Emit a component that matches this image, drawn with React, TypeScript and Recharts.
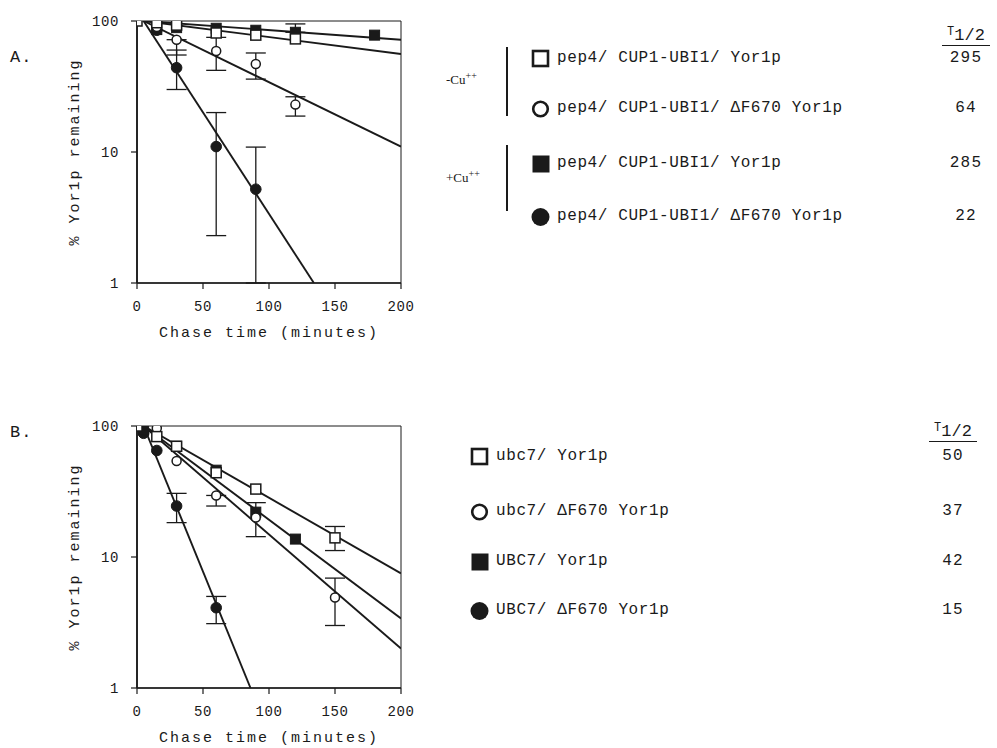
import React from 'react';
import { ComposedChart, Scatter, Line, XAxis, YAxis, ErrorBar, ReferenceArea, Label } from 'recharts';

const MONO = '"Liberation Mono", "Courier New", monospace';
const SERIF = '"Liberation Serif", "Times New Roman", serif';
const INK = '#1a1a1a';

// ---------- axis ticks ----------
const xTicks = [0, 50, 100, 150, 200];
const yTicks = [1, 10, 100];

// ---------- Panel A data ----------
const aOpenSqT = [0, 15, 30, 60, 90, 120];
const aOpenSqV = [100, 97, 93, 81, 78, 73];
const aOpenSqLo = [null, null, null, null, null, null];
const aOpenSqHi = [null, null, null, null, null, null];

const aOpenCiT = [15, 30, 60, 90, 120];
const aOpenCiV = [90, 72, 59, 47, 23];
const aOpenCiLo = [null, 55, 42, 36, 18.8];
const aOpenCiHi = [null, null, 75, 57, 26.4];

const aFillSqT = [15, 30, 60, 90, 120, 180];
const aFillSqV = [86, 89, 88, 85, 82, 78];
const aFillSqLo = [null, null, null, null, null, null];
const aFillSqHi = [null, null, null, null, 95, null];

const aFillCiT = [15, 30, 60, 90];
const aFillCiV = [85, 44, 11, 5.2];
const aFillCiLo = [null, 30, 2.3, 1];
const aFillCiHi = [null, 60, 20, 10.9];

const aFitOpenSqT = [5, 200];
const aFitOpenSqV = [100, 56];
const aFitFillSqT = [5, 200];
const aFitFillSqV = [100, 72];
const aFitOpenCiT = [5, 200];
const aFitOpenCiV = [100, 11];
const aFitFillCiT = [5, 134];
const aFitFillCiV = [100, 1];

// ---------- Panel B data ----------
const bOpenSqT = [0, 15, 30, 60, 90, 150];
const bOpenSqV = [100, 83, 70, 44, 33, 14];
const bOpenSqLo = [null, null, null, null, null, 11.2];
const bOpenSqHi = [null, null, null, null, null, 17.1];

const bOpenCiT = [15, 30, 60, 90, 150];
const bOpenCiV = [96, 54, 29.5, 20, 4.9];
const bOpenCiLo = [null, null, 24.5, 14.3, 3.0];
const bOpenCiHi = [null, null, null, 26, 6.9];

const bFillSqT = [5, 30, 60, 90, 120];
const bFillSqV = [93, 70, 46, 22, 13.7];
const bFillSqLo = [null, null, null, null, null];
const bFillSqHi = [null, null, null, null, null];

const bFillCiT = [5, 15, 30, 60];
const bFillCiV = [88, 65, 24.5, 4.1];
const bFillCiLo = [null, null, 18.3, 3.1];
const bFillCiHi = [null, null, 30.6, 5.0];

const bFitOpenSqT = [5, 200];
const bFitOpenSqV = [100, 7.5];
const bFitFillSqT = [5, 200];
const bFitFillSqV = [100, 3.4];
const bFitOpenCiT = [5, 200];
const bFitOpenCiV = [100, 2.0];
const bFitFillCiT = [5, 86];
const bFitFillCiV = [100, 1];

// ---------- legends ----------
const legendALabels = [
  'pep4/ CUP1-UBI1/ Yor1p',
  'pep4/ CUP1-UBI1/ ΔF670 Yor1p',
  'pep4/ CUP1-UBI1/ Yor1p',
  'pep4/ CUP1-UBI1/ ΔF670 Yor1p',
];
const legendAHalf = ['295', '64', '285', '22'];
const legendBLabels = ['ubc7/ Yor1p', 'ubc7/ ΔF670 Yor1p', 'UBC7/ Yor1p', 'UBC7/ ΔF670 Yor1p'];
const legendBHalf = ['50', '37', '42', '15'];
const symbolKinds = ['openSq', 'openCi', 'fillSq', 'fillCi'];

type Pt = { x: number; y: number; err?: number[] };

function build(t: number[], v: number[], lo: (number | null)[], hi: (number | null)[]): Pt[] {
  return t.map((x, i) => {
    const l = lo[i];
    const h = hi[i];
    const p: Pt = { x, y: v[i] };
    if (l != null || h != null) {
      p.err = [l != null ? v[i] - l : 0, h != null ? h - v[i] : 0];
    }
    return p;
  });
}
function fit(t: number[], v: number[]) {
  return t.map((x, i) => ({ x, y: v[i] }));
}

const M = 5; // marker half size
const OpenSq = (p: any) => (
  <rect x={p.cx - M} y={p.cy - M} width={2 * M} height={2 * M} fill="#fff" stroke={INK} strokeWidth={1.5} />
);
const FillSq = (p: any) => (
  <rect x={p.cx - M} y={p.cy - M} width={2 * M} height={2 * M} fill={INK} stroke={INK} strokeWidth={1} />
);
const OpenCi = (p: any) => <circle cx={p.cx} cy={p.cy} r={M - 0.5} fill="#fff" stroke={INK} strokeWidth={1.5} />;
const FillCi = (p: any) => <circle cx={p.cx} cy={p.cy} r={M + 0.3} fill={INK} stroke={INK} strokeWidth={1} />;

const XTitle = (props: any) => {
  const vb = props.viewBox || {};
  return (
    <text x={vb.x + vb.width / 2} y={vb.y + 54} textAnchor="middle" fontFamily={MONO} fontSize={15} letterSpacing={2} fill={INK}>
      Chase time (minutes)
    </text>
  );
};
const YTitle = (props: any) => {
  const vb = props.viewBox || {};
  const cx = vb.x + vb.width - 62;
  const cy = vb.y + vb.height / 2;
  return (
    <text x={cx} y={cy} transform={`rotate(-90 ${cx} ${cy})`} textAnchor="middle" dominantBaseline="central" fontFamily={MONO} fontSize={15} letterSpacing={2} fill={INK}>
      % Yor1p remaining
    </text>
  );
};

type Series = { pts: Pt[]; shape: any; fitPts: { x: number; y: number }[] };

function Panel({ series, name }: { series: Series[]; name: string }) {
  const tickStyle = { fontFamily: MONO, fontSize: 14, fill: INK, letterSpacing: 0.6 };
  return (
    <ComposedChart width={420} height={343} margin={{ top: 21, right: 19, bottom: 10, left: 77 }}>
      <XAxis
        type="number"
        dataKey="x"
        domain={[0, 200]}
        ticks={xTicks}
        allowDataOverflow
        height={50}
        tickSize={6}
        tickMargin={12}
        tick={tickStyle}
        axisLine={{ stroke: INK, strokeWidth: 1.5 }}
        tickLine={{ stroke: INK, strokeWidth: 1.2 }}
      >
        <Label content={<XTitle />} />
      </XAxis>
      <YAxis
        type="number"
        dataKey="y"
        scale="log"
        domain={[1, 100]}
        ticks={yTicks}
        allowDataOverflow
        width={60}
        tickSize={6}
        tickMargin={12}
        tick={tickStyle}
        axisLine={{ stroke: INK, strokeWidth: 1.8 }}
        tickLine={{ stroke: INK, strokeWidth: 1.2 }}
      >
        <Label content={<YTitle />} />
      </YAxis>
      <ReferenceArea x1={0} x2={200} y1={1} y2={100} fill="none" stroke={INK} strokeWidth={1} />
      {series.map((s, i) => (
        <Line
          key={`${name}-fit-${i}`}
          data={s.fitPts}
          dataKey="y"
          type="linear"
          dot={false}
          activeDot={false}
          stroke={INK}
          strokeWidth={1.9}
          isAnimationActive={false}
          legendType="none"
        />
      ))}
      {/* filled markers first, open markers drawn on top */}
      {[3, 2, 1, 0].map((i) => (
        <Scatter key={`${name}-pts-${i}`} data={series[i].pts} dataKey="y" shape={series[i].shape} isAnimationActive={false}>
          <ErrorBar dataKey="err" direction="y" width={10} stroke={INK} strokeWidth={1.3} />
        </Scatter>
      ))}
    </ComposedChart>
  );
}

const seriesA: Series[] = [
  { pts: build(aOpenSqT, aOpenSqV, aOpenSqLo, aOpenSqHi), shape: OpenSq, fitPts: fit(aFitOpenSqT, aFitOpenSqV) },
  { pts: build(aOpenCiT, aOpenCiV, aOpenCiLo, aOpenCiHi), shape: OpenCi, fitPts: fit(aFitOpenCiT, aFitOpenCiV) },
  { pts: build(aFillSqT, aFillSqV, aFillSqLo, aFillSqHi), shape: FillSq, fitPts: fit(aFitFillSqT, aFitFillSqV) },
  { pts: build(aFillCiT, aFillCiV, aFillCiLo, aFillCiHi), shape: FillCi, fitPts: fit(aFitFillCiT, aFitFillCiV) },
];
const seriesB: Series[] = [
  { pts: build(bOpenSqT, bOpenSqV, bOpenSqLo, bOpenSqHi), shape: OpenSq, fitPts: fit(bFitOpenSqT, bFitOpenSqV) },
  { pts: build(bOpenCiT, bOpenCiV, bOpenCiLo, bOpenCiHi), shape: OpenCi, fitPts: fit(bFitOpenCiT, bFitOpenCiV) },
  { pts: build(bFillSqT, bFillSqV, bFillSqLo, bFillSqHi), shape: FillSq, fitPts: fit(bFitFillSqT, bFitFillSqV) },
  { pts: build(bFillCiT, bFillCiV, bFillCiLo, bFillCiHi), shape: FillCi, fitPts: fit(bFitFillCiT, bFitFillCiV) },
];

function LegendSymbol({ kind }: { kind: string }) {
  return (
    <svg width={20} height={20} style={{ display: 'block' }}>
      {kind === 'openSq' && <rect x={2} y={2} width={15} height={15} fill="#fff" stroke={INK} strokeWidth={2.6} />}
      {kind === 'fillSq' && <rect x={1.5} y={1.5} width={17} height={17} fill={INK} />}
      {kind === 'openCi' && <circle cx={9.5} cy={10} r={7.3} fill="#fff" stroke={INK} strokeWidth={2.6} />}
      {kind === 'fillCi' && <circle cx={9.5} cy={10} r={9} fill={INK} />}
    </svg>
  );
}

function LegendBlock({ labels, halves, symX, rows, colX, headY }: { labels: string[]; halves: string[]; symX: number; rows: number[]; colX: number; headY: number }) {
  return (
    <>
      {labels.map((lab, i) => (
        <div key={'s' + i} style={{ position: 'absolute', left: symX - 10, top: rows[i] - 10 }}>
          <LegendSymbol kind={symbolKinds[i]} />
        </div>
      ))}
      {labels.map((lab, i) => (
        <div
          key={'t' + i}
          style={{ position: 'absolute', left: symX + 16, top: rows[i] - 11, fontFamily: MONO, fontSize: 16, letterSpacing: 0.6, color: INK, whiteSpace: 'pre', lineHeight: '20px' }}
        >
          {lab}
        </div>
      ))}
      {halves.map((h, i) => (
        <div
          key={'h' + i}
          style={{ position: 'absolute', left: colX - 30, width: 60, top: rows[i] - 11, textAlign: 'center', fontFamily: MONO, fontSize: 16, letterSpacing: 1.2, color: INK, lineHeight: '20px' }}
        >
          {h}
        </div>
      ))}
      <div
        style={{ position: 'absolute', left: colX - 24, width: 48, top: headY - 22, height: 21, borderBottom: `1.5px solid ${INK}`, textAlign: 'center', fontFamily: MONO, color: INK, whiteSpace: 'pre' }}
      >
        <span style={{ fontSize: 12, position: 'relative', top: -3 }}>T</span>
        <span style={{ fontSize: 17, position: 'relative', top: 2 }}>1/2</span>
      </div>
    </>
  );
}

export default function App() {
  return (
    <div style={{ position: 'absolute', left: 0, top: 0, width: 997, height: 748, background: '#fff', overflow: 'hidden' }}>
      <div style={{ position: 'absolute', left: 10, top: 48, fontFamily: MONO, fontSize: 17, letterSpacing: 1, color: INK }}>A.</div>
      <div style={{ position: 'absolute', left: 10, top: 423, fontFamily: MONO, fontSize: 17, letterSpacing: 1, color: INK }}>B.</div>

      <div style={{ position: 'absolute', left: 0, top: 0 }}>
        <Panel series={seriesA} name="A" />
      </div>
      <div style={{ position: 'absolute', left: 0, top: 405 }}>
        <Panel series={seriesB} name="B" />
      </div>

      {/* Panel A legend */}
      <div style={{ position: 'absolute', left: 506, top: 47, width: 2, height: 69, background: INK }} />
      <div style={{ position: 'absolute', left: 506, top: 145, width: 2, height: 66, background: INK }} />
      <div style={{ position: 'absolute', left: 446, top: 70, fontFamily: SERIF, fontSize: 13, color: INK }}>
        -Cu<sup style={{ fontSize: 10 }}>++</sup>
      </div>
      <div style={{ position: 'absolute', left: 446, top: 168, fontFamily: SERIF, fontSize: 13, color: INK }}>
        +Cu<sup style={{ fontSize: 10 }}>++</sup>
      </div>
      <LegendBlock labels={legendALabels} halves={legendAHalf} symX={541} rows={[59, 109, 164, 217]} colX={966} headY={46} />

      {/* Panel B legend */}
      <LegendBlock labels={legendBLabels} halves={legendBHalf} symX={480} rows={[457, 512, 562, 611]} colX={953} headY={442} />
    </div>
  );
}
